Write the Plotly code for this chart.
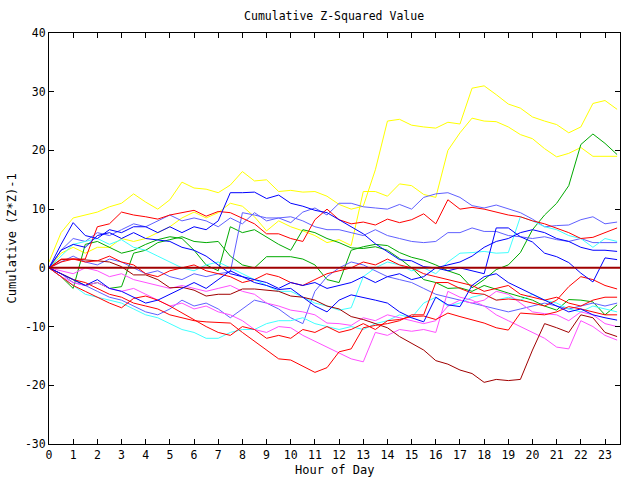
import plotly.graph_objects as go

# Half-hour sample times (hour of day)
hours = [i * 0.5 for i in range(48)]

x_ticks = list(range(24))
y_ticks = [-30, -20, -10, 0, 10, 20, 30, 40]
y_tick_text = ["-30", "-20", "-10", "0", "10", "20", "30", "40"]

# Cumulative (Z*Z)-1 per series (rows = 4 hours each)
yellow_a = [1, 6, 8.5, 9, 9.5, 10.4, 11, 12.6,
            11.2, 10, 11.6, 14.6, 13.6, 13.4, 12.8, 14.1,
            16.4, 14.8, 15, 13, 13.2, 12.9, 13, 12.2,
            10.8, 10, 10.5, 16.7, 25, 25.3, 24.3, 24,
            23.8, 24.8, 24.5, 30.6, 31, 29.5, 27.9, 27.2,
            25.7, 25, 24.4, 23, 24, 28, 28.5, 27]
yellow_b = [0, 2.5, 3.5, 2.5, 3.5, 3.5, 5, 4.5,
            5, 6, 7, 8.5, 9.5, 8.5, 9.4, 11,
            10.5, 8.7, 6.3, 8, 7, 6.3, 5.5, 4.3,
            4.8, 3.8, 13, 13, 12.2, 14.3, 14, 12.5,
            12, 20, 23, 25.5, 25, 24.9, 24, 22.7,
            22, 20.3, 18.9, 19.5, 20.5, 19, 19, 19]
green_a = [0, -1, -2, -3, -2.5, -3.5, -3.2, 2.5,
           3, 4.3, 4.8, 5.3, 4.5, 4.3, 4.5, 2,
           0.5, 0, 1.9, 1.9, 1.9, 1.5, 0.5, -2,
           -2.5, 3, 3.6, 4, 3.8, 2.6, 1.8, 1.3,
           0.5, -0.5, -1.2, -3.4, -2, -0.3, 0.5, 2.6,
           6.5, 9, 11, 14, 21, 22.8, 21.2, 19.3]
green_b = [0, -1.5, -3.5, 4, 4.5, 3.5, 2.5, 3,
           4, 4.8, 5.3, 5, 3, 0.5, -0.5, 7,
           6, 6.5, 5.2, 4, 3, 6.5, 6, 5,
           4.3, 3.4, 3.3, 3.6, 3, 1.6, 0, -2,
           -2.5, -3.5, -3.4, -4, -3, -3.7, -4.3, -4.9,
           -5.5, -6.5, -7.2, -5.4, -5.5, -5.8, -8, -6.3]
blue_a = [0, 3, 4, 3.5, 5.5, 6, 5, 6,
          5, 4.8, 4.5, 3.5, 3, 2, 0.5, -1,
          -1.5, -2, -2.5, -3.5, -2.5, -3, -2.5, -3.5,
          -3, -2.5, -1.5, -2.5, -1.5, -1, -2, -1.5,
          0, 0.5, 1, 2, 3.5, 4.5, 5, 6,
          6.5, 6, 5, 4.5, 3.5, 3, 3, 2.8]
blue_b = [0, 4, 7.7, 5.5, 5, 6.5, 6, 7,
          7, 6, 7, 6, 7, 6.5, 8, 12.8,
          12.8, 12.9, 11.8, 12.4, 11, 10.5, 9.8, 9.4,
          8.2, 7, 5.8, 4.1, 2.8, 1.4, 1.2, 0.2,
          0, -0.5, 0, -0.5, -1, 6.8, 6.8, 5.3,
          4.4, 2.5, 1.9, 0.9, -0.9, -2.4, 1.7, 1.4]
blue_c = [0, -1, -2, -3, -2, -3.5, -4, -5,
          -6, -5.5, -4.5, -3.5, -2.5, -3.5, -2, -0.5,
          -1.5, -2.5, -3, -3.7, -3.5, -5, -6.5, -7.5,
          -5.5, -4.6, -5, -5.5, -6, -7.5, -8.5, -9.2,
          -5, -6.3, -6.6, -3, -1.5, -1, -2.5, -3.5,
          -4.5, -5.5, -6.5, -7.5, -7, -8, -8.5, -8.9]
lblue_a = [0, 3, 5, 4.5, 6, 5.5, 6.5, 7.5,
           7, 8, 9, 8, 8.5, 8, 7, 8.5,
           7.5, 9.4, 8, 8.5, 7.7, 9.5, 10.2, 9,
           11, 11, 10.4, 10.2, 10, 10.8, 10, 12,
           12.6, 12.8, 12, 10.6, 10.2, 10.7, 10, 9.4,
           8.3, 7, 7.2, 7.3, 8.2, 8.7, 7.5, 7.8]
lblue_b = [0, 1, 2, 1, 0.5, 1.5, 1, 0,
           -1, -0.5, -1.5, -2, -1, -1.5, -1, -0.7,
           9.4, 9, 8.5, 8.5, 8.7, 8, 7, 6.5,
           6.5, 6, 5.5, 6.5, 5.5, 5, 4.5, 4.3,
           4.5, 6, 6, 6.8, 6.2, 6.2, 5.5, 5.3,
           5, 5.3, 4.8, 4.5, 5, 4.3, 4.3, 4.3]
lblue_c = [0, -1, -2.5, -3, -4, -5, -5.5, -6.5,
           -7.5, -8, -7, -5.5, -6.5, -6, -7, -8.5,
           -7, -5.5, -6, -7, -8.5, -9.5, -4, -1.5,
           0, 1, 0.5, -0.5, -1.5, -2, -2.5, -3.5,
           -4.5, -5, -5.5, -6, -6.5, -7, -7.5, -7,
           -6.5, -6, -6.5, -7, -6.5, -6, -6.5, -6]
cyan_a = [0, -1.5, -3, -4.5, -5, -5.5, -6, -7,
          -8, -8.5, -9.5, -10.5, -11, -12, -12, -11,
          -10.5, -10.5, -9.5, -9, -9, -8.5, -9.5, -10,
          -10.5, -10, -10.5, -9.5, -9, -8, -8.5, -6,
          -5, -6.5, -6, -5, -4.5, -5.5, -5, -5.5,
          -4.5, -5.5, -6, -7, -7.5, -6.5, -7, -7.5]
cyan_b = [0, 2, 4, 4.5, 5, 4, 4.8, 3.5,
          3, 2, 1, 0, -0.5, 0.5, 1, 0,
          -1, -2, -3, -4, -4, -5, -6, -6.5,
          -7.2, -6.8, -1.5, 0, 1, 0.5, -0.5, 0,
          -1, 1, 2.5, 2.6, 2.8, 2.5, 2.6, 8.7,
          8, 7, 6.5, 5.5, 5, 3.5, 5, 4.5]
magenta_a = [0, -1.5, -2.5, -3, -2.5, -3.5, -4, -3.5,
             -4.5, -5.5, -6.5, -6, -7, -6.5, -7.5, -8,
             -9, -10.5, -11, -10, -10.2, -11.5, -12.5, -13.5,
             -14.5, -15.5, -16, -11, -11.5, -10.5, -10.8, -10.5,
             -11, -4, -5, -5.5, -6.5, -8, -9, -10,
             -11, -12, -13.5, -13.8, -9, -10, -11.5, -12.3]
magenta_b = [0, -0.5, -1, 0, -0.5, -1.5, -1, -2,
             -2.5, -3, -3.5, -3, -3.5, -4, -3.5, -3,
             -4, -4.5, -6, -6.5, -7.2, -7.5, -8, -9.4,
             -9.5, -9.8, -8.5, -9, -8, -8.5, -9, -9.5,
             -9, -6.5, -5.5, -6, -5.5, -4, -4.5, -6,
             -7.5, -7.8, -8, -9, -7.5, -8, -9.5, -10]
red_a = [0, 1.5, 1.5, 1.5, 7, 7.5, 9.5, 9,
         8.7, 8.3, 9, 9.4, 9.8, 8.8, 9.6, 9.4,
         8.5, 7.5, 5.8, 5.8, 5, 4.5, 8.2, 10,
         8.2, 7.5, 7.8, 7.3, 8.3, 7.7, 8.2, 9.2,
         7.5, 11.6, 10, 10.3, 10, 9.5, 9, 8.7,
         8, 7.5, 6.8, 6, 5, 5.2, 6, 6.8]
red_b = [0, -1, -2, -2.5, -3.5, -4.5, -5, -6,
         -6.5, -7, -8, -8.5, -9, -9.2, -9.3, -9.4,
         -11, -12.5, -14, -15.5, -15.7, -16.7, -17.8, -17,
         -14.3, -13.8, -10.2, -9.8, -9.5, -9, -8, -8,
         -2.5, -2.5, -3.5, -4.3, -4.5, -5.5, -5.3, -5.5,
         -6, -6.5, -5.5, -3.2, -1.5, -2, -3, -3.6]
red_c = [0, -1.5, -3, -4, -5, -6, -6.8, -5.2,
         -4.8, -5.5, -6.5, -7.7, -8.9, -10, -11, -11.5,
         -10, -10.5, -12, -11.5, -12, -10.5, -11, -10,
         -11, -10.5, -9.5, -10.5, -9, -8.8, -8.3, -8.2,
         -8.8, -7.7, -8.3, -8.8, -9.4, -10.2, -10.6, -7.7,
         -7.8, -8, -7.5, -6.6, -7, -7.5, -8, -8]
red_d = [0, 1, 1.5, 1, 1.2, 2, 1, 0.5,
         -1, -1.5, -0.5, 0, 0.5, -0.5, -1, -1.5,
         -2.5, -2, -1, -1.5, -2.5, -3, -2, -1,
         -0.5, 0, 1, 0.5, 1.5, 0.5, 0, -1,
         -1.5, -2, -2.5, -3, -4, -3.5, -3, -4.5,
         -5, -5.5, -5, -6, -6.5, -5.5, -5, -5]
darkred_a = [0, 1.4, 1.5, 1.4, 1.2, 1, 0.2, -1.2,
             -1.2, -2, -3.4, -3.3, -3.8, -4.8, -4.5, -4.5,
             -3.6, -3.6, -3.8, -4, -4.8, -5, -5.5, -6.5,
             -7, -8.3, -8.8, -9.5, -10.2, -11.7, -12.8, -14,
             -15.8, -16.4, -17.4, -18, -19.5, -19, -19.2, -19,
             -14, -9.5, -10.2, -11, -8, -8.5, -11, -11.7]

series = [
    (yellow_a, "#ffff00"), (yellow_b, "#ffff00"),
    (green_a, "#00aa00"), (green_b, "#00aa00"),
    (lblue_a, "#6060ff"), (lblue_b, "#6060ff"), (lblue_c, "#6060ff"),
    (cyan_a, "#40ffff"), (cyan_b, "#40ffff"),
    (magenta_a, "#ff50ff"), (magenta_b, "#ff50ff"),
    (darkred_a, "#a00000"),
    (red_a, "#ff0000"), (red_b, "#ff0000"), (red_c, "#ff0000"), (red_d, "#ff0000"),
    (blue_a, "#0000ff"), (blue_b, "#0000ff"), (blue_c, "#0000ff"),
]

fig = go.Figure()
for vals, col in series:
    fig.add_trace(go.Scatter(x=hours, y=vals, mode="lines",
                             line=dict(color=col, width=1), showlegend=False,
                             hoverinfo="skip"))

fig.add_hline(y=0, line_color="#a00000", line_width=2)

font = dict(family="DejaVu Sans Mono", size=11.5, color="black")
title_font = dict(family="DejaVu Sans Mono", size=12, color="black")

fig.update_layout(
    width=640, height=480,
    margin=dict(l=49, r=20, t=33, b=36),
    paper_bgcolor="white", plot_bgcolor="white",
    font=font,
    title=dict(text="Cumulative Z-Squared Value", x=0.522, xanchor="center",
               y=1 - 16 / 480, yanchor="middle", yref="container",
               font=font),
    showlegend=False,
)
fig.update_xaxes(range=[0, 23.62], tickvals=x_ticks, ticks="inside", ticklen=5,
                 tickcolor="black", showline=True, linecolor="black", linewidth=1,
                 mirror="ticks", showgrid=False, zeroline=False,
                 tickfont=font)
fig.update_yaxes(range=[-30, 40], tickvals=y_ticks, ticktext=y_tick_text,
                 ticks="inside", ticklen=5, tickcolor="black", showline=True,
                 linecolor="black", linewidth=1, mirror="ticks", showgrid=False,
                 zeroline=False, tickfont=font)

fig.add_annotation(text="Hour of Day", xref="paper", yref="paper",
                   x=0.5, y=-0.063, showarrow=False, font=title_font,
                   xanchor="center", yanchor="middle")
fig.add_annotation(text="Cumulative (Z*Z)-1", xref="paper", yref="paper",
                   x=-0.065, y=0.5, showarrow=False, font=title_font, textangle=-90,
                   xanchor="center", yanchor="middle")

fig.write_html("out.html")
